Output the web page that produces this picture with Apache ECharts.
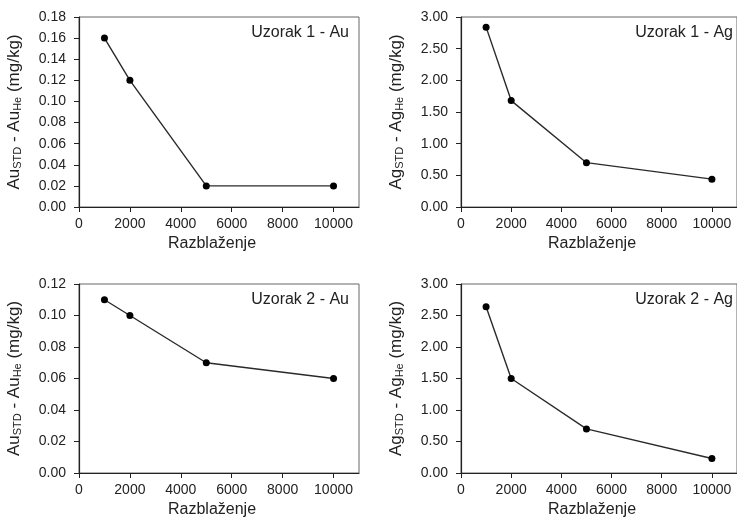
<!DOCTYPE html>
<html>
<head>
<meta charset="utf-8">
<script src="https://cdn.jsdelivr.net/npm/echarts@6/dist/echarts.min.js"></script>
<style>
html, body { margin: 0; padding: 0; background: #fff; }
#chart { width: 737px; height: 519px; }
</style>
</head>
<body>
<div id="chart"></div>
<script>
// razblaženje (x) i razlike STD - He (y)
var dilution = [1000, 2000, 5000, 10000];
var au1 = [0.16, 0.12, 0.02, 0.02];
var ag1 = [2.84, 1.68, 0.70, 0.44];
var au2 = [0.11, 0.10, 0.07, 0.06];
var ag2 = [2.64, 1.50, 0.70, 0.23];
var xTicks = [0, 2000, 4000, 6000, 8000, 10000];
var panelTitles = ['Uzorak 1 - Au', 'Uzorak 1 - Ag', 'Uzorak 2 - Au', 'Uzorak 2 - Ag'];
var yNames = [
	'{n|Au}{s|STD}{n| - Au}{s|He}{n| (mg/kg)}',
	'{n|Ag}{s|STD}{n| - Ag}{s|He}{n| (mg/kg)}',
	'{n|Au}{s|STD}{n| - Au}{s|He}{n| (mg/kg)}',
	'{n|Ag}{s|STD}{n| - Ag}{s|He}{n| (mg/kg)}'
];
var yMax = [0.18, 3, 0.12, 3];
var yStep = [0.02, 0.5, 0.02, 0.5];

var font = '"Liberation Sans", Arial, sans-serif';
var txt = '#222';

// položaji panela (px)
var boxes = [
	{ left: 79, top: 17, width: 280, height: 190 },
	{ left: 461, top: 17, width: 282, height: 190 },
	{ left: 79, top: 284, width: 280, height: 190 },
	{ left: 461, top: 284, width: 282, height: 190 }
];
var seriesData = [au1, ag1, au2, ag2];

var grids = [], xAxes = [], yAxes = [], series = [], titles = [];
for (var i = 0; i < 4; i++) {
	var b = boxes[i];
	grids.push({
		left: b.left, top: b.top, width: b.width, height: b.height,
		show: true, borderColor: '#666', borderWidth: 1, backgroundColor: 'transparent'
	});
	xAxes.push({
		gridIndex: i, type: 'value', min: 0, max: 11000,
		name: 'Razblaženje', nameLocation: 'middle', nameGap: 29,
		nameTextStyle: { fontFamily: font, fontSize: 16, color: txt, padding: [0, 14, 0, 0] },
		axisLine: { lineStyle: { color: '#222', width: 1.2 } },
		axisTick: { show: true, length: 5, customValues: xTicks, lineStyle: { color: '#222' } },
		axisLabel: {
			customValues: xTicks, fontFamily: font, fontSize: 14, color: txt, margin: 10,
			formatter: function(v) { return String(v); }
		},
		splitLine: { show: false }
	});
	yAxes.push({
		gridIndex: i, type: 'value', min: 0, max: yMax[i], interval: yStep[i],
		name: yNames[i], nameLocation: 'middle', nameGap: 56, nameRotate: 90,
		nameTextStyle: {
			rich: {
				n: { fontFamily: font, fontSize: 17, color: txt, lineHeight: 17, verticalAlign: 'top' },
				s: { fontFamily: font, fontSize: 11, color: txt, lineHeight: 12, padding: [8, 0, 0, 0], verticalAlign: 'bottom' }
			}
		},
		axisLine: { show: true, lineStyle: { color: '#222', width: 1.2 } },
		axisTick: { show: true, length: 5, lineStyle: { color: '#222' } },
		axisLabel: {
			fontFamily: font, fontSize: 14, color: txt, margin: 13,
			formatter: function(v) { return v.toFixed(2); }
		},
		splitLine: { show: false }
	});
	var pts = [];
	for (var j = 0; j < dilution.length; j++) {
		pts.push([dilution[j], seriesData[i][j]]);
	}
	series.push({
		type: 'line', xAxisIndex: i, yAxisIndex: i, data: pts,
		symbol: 'circle', symbolSize: 7,
		itemStyle: { color: '#000' },
		lineStyle: { color: '#2a2a2a', width: 1.4 },
		silent: true, animation: false
	});
	titles.push({
		text: panelTitles[i],
		right: 737 - (b.left + b.width) + 10,
		top: b.top + 8,
		padding: 0,
		textStyle: { fontFamily: font, fontSize: 16, fontWeight: 'normal', color: txt }
	});
}

var myChart = echarts.init(document.getElementById('chart'));
myChart.setOption({
	backgroundColor: '#fff',
	animation: false,
	title: titles,
	grid: grids,
	xAxis: xAxes,
	yAxis: yAxes,
	series: series
});
</script>
</body>
</html>
